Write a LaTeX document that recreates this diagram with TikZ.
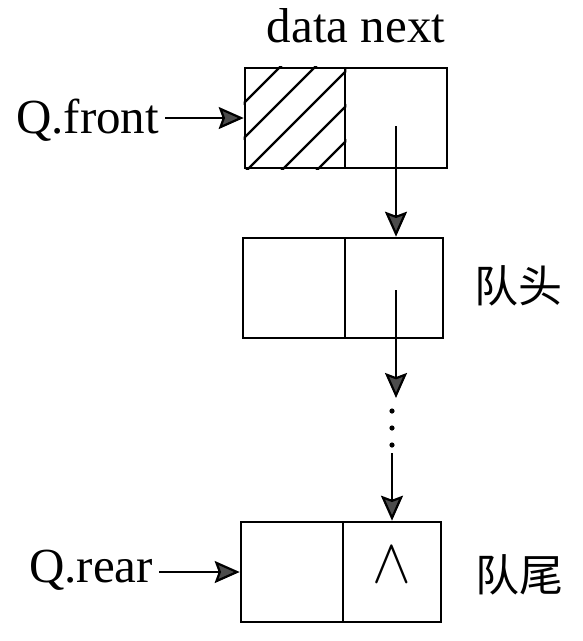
\documentclass[tikz,border=0pt]{standalone}
\usepackage{fontspec}
\setmainfont{Liberation Serif}
\newfontfamily\cjk{Noto Sans CJK SC}
\usetikzlibrary{arrows.meta}
\tikzset{
  cell/.style={draw, line width=2.6pt, inner sep=0pt, minimum height=100pt},
  lbl/.style={inner sep=0pt, font=\fontsize{49}{50}\selectfont},
  cjklbl/.style={inner sep=0pt, font=\cjk\fontsize{44}{46}\selectfont},
  ptr/.style={line width=2.2pt, arrows={-Stealth[length=25pt, width=22pt, inset=4pt, fill=black!70]}},
  hatch/.style={line width=2.2pt},
  dotmark/.style={fill=black, draw=none}
}
\begin{document}
\begin{tikzpicture}[x=1pt,y=-1pt]
\useasboundingbox (0,0) rectangle (582,641);
% node 1
\node[cell, minimum width=100pt] (d1) at (295,118) {};
\node[cell, minimum width=102pt] (n1) at (396,118) {};
\begin{scope}
  \clip (d1.south west) rectangle (d1.north east);
  \foreach \c in {347,382,417,452,487}
    \draw[hatch] (\c-220,220) -- (\c+20,-20);
\end{scope}
\node[cell, minimum width=100pt] at (d1) {};
% node 2
\node[cell, minimum width=102pt] (d2) at (294,288) {};
\node[cell, minimum width=98pt] (n2) at (394,288) {};
% node 3
\node[cell, minimum width=102pt] (d3) at (292,572) {};
\node[cell, minimum width=98pt] (n3) at (392,572) {};
\node[inner sep=0pt, xscale=5.8, yscale=6.3] (nil) at (392,565) {$\wedge$};
% labels
\node[lbl, anchor=base] (hdr) at (356,42) {data next};
\node[lbl, anchor=base west] (qf) at (16,133) {Q.front};
\node[lbl, anchor=base west] (qr) at (29,582) {Q.rear};
\node[cjklbl] (head) at (518,286) {队头};
\node[cjklbl] (tail) at (519,575) {队尾};
% pointers
\draw[ptr] (qf.east |- d1.west) ++(6pt,0) coordinate (qfs) -- (d1.west);
\draw[ptr] (qr.east |- d3.west) ++(6pt,0) coordinate (qrs) -- (d3.west);
\coordinate (p1) at (396,126);
\draw[ptr] (p1) -- (p1 |- n2.north);
\coordinate (p2) at (396,290);
\coordinate (p2e) at (396,398);
\draw[ptr] (p2) -- (p2e);
\foreach \yy in {411,428,445}
  \fill[dotmark] (392,\yy) circle (2.6pt);
\coordinate (p3) at (392,453);
\draw[ptr] (p3) -- (p3 |- n3.north);
\end{tikzpicture}
\end{document}
